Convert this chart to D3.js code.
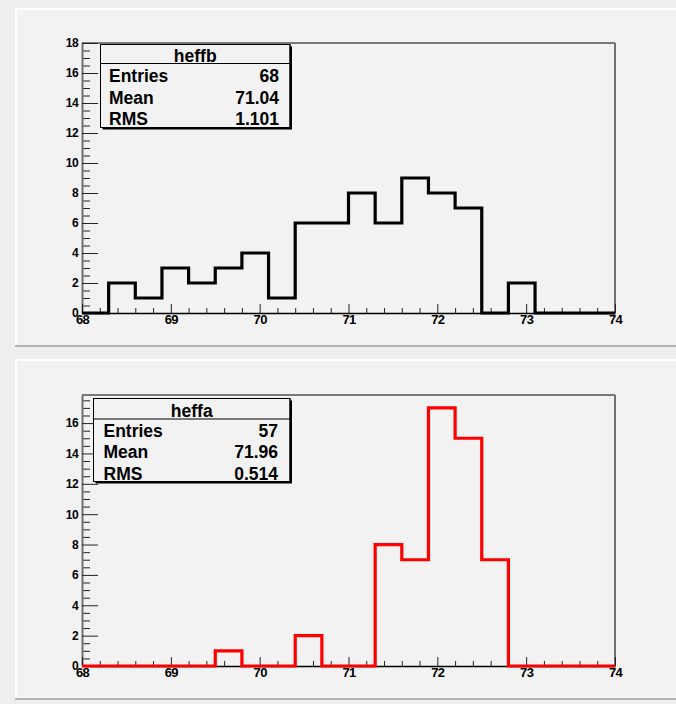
<!DOCTYPE html>
<html>
<head>
<meta charset="utf-8">
<script src="https://cdn.jsdelivr.net/npm/d3@7/dist/d3.min.js"></script>
<style>
  html, body { margin: 0; padding: 0; background: #eeeeee; }
  svg { display: block; }
  text { font-family: "Liberation Sans", Arial, sans-serif; font-weight: bold; }
</style>
</head>
<body>
<svg id="c" width="676" height="704"></svg>
<script>
// Bin edges shared by both histograms (20 bins of 0.3 from 68 to 74)
const binLow = 68, binHigh = 74, binWidth = 0.3;
const xTickLabels = [68, 69, 70, 71, 72, 73, 74];

// heffb counts per bin
const heffbCounts = [0, 2, 1, 3, 2, 3, 4, 1, 6, 6, 8, 6, 9, 8, 7, 0, 2, 0, 0, 0];
// heffa counts per bin
const heffaCounts = [0, 0, 0, 0, 0, 1, 0, 0, 2, 0, 0, 8, 7, 17, 15, 7, 0, 0, 0, 0];

// Statistics box contents
const heffbStats = { name: "heffb", entries: "68", mean: "71.04", rms: "1.101" };
const heffaStats = { name: "heffa", entries: "57", mean: "71.96", rms: "0.514" };

const heffbYTicks = [0, 2, 4, 6, 8, 10, 12, 14, 16, 18];
const heffaYTicks = [0, 2, 4, 6, 8, 10, 12, 14, 16];

const svg = d3.select("#c");

// Pad backgrounds with bevelled edges
function drawPad(y0, y1) {
  const g = svg.append("g");
  g.append("rect").attr("x", 15).attr("y", y0).attr("width", 661).attr("height", y1 - y0)
    .attr("fill", "#f2f2f2");
  g.append("line").attr("x1", 15).attr("x2", 676).attr("y1", y0 + 1).attr("y2", y0 + 1)
    .attr("stroke", "#ffffff").attr("stroke-width", 2);
  g.append("line").attr("x1", 16).attr("x2", 16).attr("y1", y0).attr("y2", y1)
    .attr("stroke", "#ffffff").attr("stroke-width", 2);
  g.append("line").attr("x1", 15).attr("x2", 676).attr("y1", y1 - 1).attr("y2", y1 - 1)
    .attr("stroke", "#b4b4b4").attr("stroke-width", 2);
}
drawPad(8, 347);
drawPad(359, 700);

function drawHist(cfg) {
  const x = d3.scaleLinear().domain([binLow, binHigh]).range([82, 615]);
  const y = d3.scaleLinear().domain([0, cfg.ymax]).range([cfg.yBase, cfg.yTop]);
  const g = svg.append("g");

  // Frame: top edge and right edge
  g.append("line").attr("x1", x(binLow)).attr("x2", x(binHigh))
    .attr("y1", cfg.yTop).attr("y2", cfg.yTop).attr("stroke", "#000").attr("stroke-width", 1);
  g.append("line").attr("x1", x(binHigh)).attr("x2", x(binHigh))
    .attr("y1", cfg.yTop).attr("y2", cfg.yBase).attr("stroke", "#707070").attr("stroke-width", 2);

  // Y axis: major ticks every 2, minor every 0.5, pointing into the frame
  const yMinor = d3.range(0, cfg.ymax + 1e-9, 0.5).filter(v => Math.abs(v % 2) > 1e-6);
  const yMinorAxis = d3.axisLeft(y).tickValues(yMinor).tickFormat("").tickSize(-8).tickSizeOuter(0);
  const yMajorAxis = d3.axisLeft(y).tickValues(cfg.yTicks).tickFormat(d3.format("d"))
    .tickSize(-16).tickSizeOuter(0).tickPadding(4);
  const gy1 = g.append("g").attr("transform", `translate(${x(binLow)},0)`).call(yMinorAxis);
  const gy2 = g.append("g").attr("transform", `translate(${x(binLow)},0)`).call(yMajorAxis);
  [gy1, gy2].forEach(a => {
    a.select(".domain").attr("stroke", "#707070").attr("stroke-width", 2);
    a.selectAll(".tick line").attr("stroke", "#222").attr("stroke-width", 1);
  });
  gy1.select(".domain").remove();
  gy2.selectAll(".tick text").style("font-size", "12px").attr("fill", "#000")
    .style("font-family", "'Liberation Sans', Arial, sans-serif").style("font-weight", "bold")
    .style("letter-spacing", "-0.6px");

  // X axis: major ticks at integers, minor every 0.2
  const xMinor = d3.range(0, 31).map(i => binLow + i * 0.2)
    .filter(v => Math.abs(v - Math.round(v)) > 1e-6);
  const xMinorAxis = d3.axisBottom(x).tickValues(xMinor).tickFormat("").tickSize(-5).tickSizeOuter(0);
  const xMajorAxis = d3.axisBottom(x).tickValues(xTickLabels).tickFormat(d3.format("d"))
    .tickSize(-9).tickSizeOuter(0).tickPadding(2);
  const gx1 = g.append("g").attr("transform", `translate(0,${cfg.yBase})`).call(xMinorAxis);
  const gx2 = g.append("g").attr("transform", `translate(0,${cfg.yBase})`).call(xMajorAxis);
  gx1.select(".domain").remove();
  gx2.select(".domain").attr("stroke", "#000").attr("stroke-width", 1.5);
  [gx1, gx2].forEach(a => a.selectAll(".tick line").attr("stroke", "#222").attr("stroke-width", 1));
  gx2.selectAll(".tick text").style("font-size", "13px").attr("fill", "#000")
    .style("font-family", "'Liberation Sans', Arial, sans-serif").style("font-weight", "bold")
    .style("letter-spacing", "-0.6px");

  // Histogram outline as a step path
  const pts = cfg.counts.map((c, i) => ({ x: binLow + i * binWidth, y: c }));
  pts.push({ x: binHigh, y: cfg.counts[cfg.counts.length - 1] });
  const line = d3.line().x(d => x(d.x)).y(d => y(d.y)).curve(d3.curveStepAfter);
  g.append("path").datum(pts).attr("d", line)
    .attr("fill", "none").attr("stroke", cfg.color).attr("stroke-width", 3.2)
    .attr("stroke-linejoin", "miter");

  // Statistics box with shadow
  const b = cfg.box;
  const sg = svg.append("g");
  sg.append("rect").attr("x", b.x + 2).attr("y", b.y + 2).attr("width", b.w).attr("height", b.h)
    .attr("fill", "#000");
  sg.append("rect").attr("x", b.x).attr("y", b.y).attr("width", b.w).attr("height", b.h)
    .attr("fill", "#f2f2f2").attr("stroke", "#000").attr("stroke-width", 1);
  sg.append("line").attr("x1", b.x).attr("x2", b.x + b.w).attr("y1", b.divider).attr("y2", b.divider)
    .attr("stroke", "#000").attr("stroke-width", 1);
  const fs = 17.5;
  sg.append("text").attr("x", b.x + b.w / 2).attr("y", b.titleBase).attr("text-anchor", "middle")
    .attr("font-size", fs).text(cfg.stats.name);
  const rows = [["Entries", cfg.stats.entries], ["Mean", cfg.stats.mean], ["RMS", cfg.stats.rms]];
  const clipId = "clip-" + cfg.stats.name;
  svg.append("clipPath").attr("id", clipId).append("rect")
    .attr("x", b.x).attr("y", b.y).attr("width", b.w).attr("height", b.h);
  const tg = sg.append("g").attr("clip-path", `url(#${clipId})`);
  rows.forEach((r, i) => {
    tg.append("text").attr("x", b.x + b.padL).attr("y", b.rowBase[i]).attr("font-size", fs).text(r[0]);
    tg.append("text").attr("x", b.x + b.w - b.padR).attr("y", b.rowBase[i])
      .attr("text-anchor", "end").attr("font-size", fs).text(r[1]);
  });
  // redraw box border on top so clipped text sits under it
  sg.append("rect").attr("x", b.x).attr("y", b.y).attr("width", b.w).attr("height", b.h)
    .attr("fill", "none").attr("stroke", "#000").attr("stroke-width", 1);
}

drawHist({
  counts: heffbCounts, color: "#000000", ymax: 18, yTicks: heffbYTicks,
  yTop: 43, yBase: 313, stats: heffbStats,
  box: { x: 100.5, y: 44.5, w: 189.5, h: 83, divider: 63.5, titleBase: 61.7,
         rowBase: [82.3, 104, 125], padL: 8.5, padR: 11 }
});

drawHist({
  counts: heffaCounts, color: "#ff0000", ymax: 17.85, yTicks: heffaYTicks,
  yTop: 395, yBase: 666, stats: heffaStats,
  box: { x: 93.5, y: 398.5, w: 196.5, h: 83, divider: 419, titleBase: 417,
         rowBase: [437.3, 458.3, 479.5], padL: 10, padR: 12 }
});
</script>
</body>
</html>
